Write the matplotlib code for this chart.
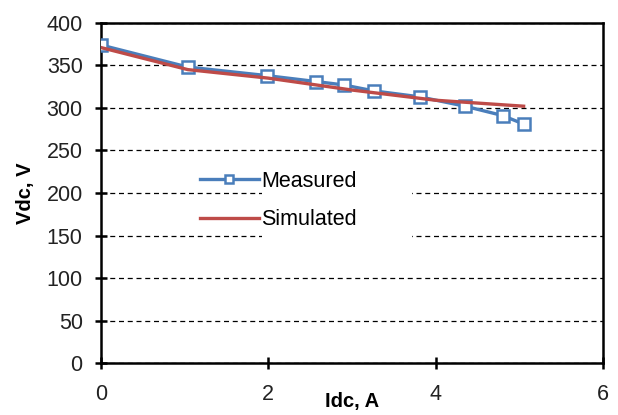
import matplotlib
matplotlib.use('Agg')
import matplotlib.pyplot as plt
from matplotlib.patches import Rectangle

plt.rcParams['font.family'] = ['Liberation Sans', 'DejaVu Sans']

# measured points
meas_I = [0.0, 1.04, 1.98, 2.57, 2.9, 3.26, 3.81, 4.35, 4.8, 5.05]
meas_V = [374, 348, 338, 331, 327, 320, 313, 302, 291, 281]

# simulated curve
sim_I = [0.0, 1.04, 2.0, 3.0, 4.0, 5.05]
sim_V = [371, 345, 335, 321, 309, 302]

x_ticks = [0, 2, 4, 6]
y_ticks = [0, 50, 100, 150, 200, 250, 300, 350, 400]

blue = '#4A7EBB'
red = '#BE4B48'

fig = plt.figure(figsize=(6.18, 4.15), dpi=100)
ax = fig.add_axes([0.163, 0.125, 0.813, 0.82])

ax.plot(meas_I, meas_V, color=blue, lw=2.4, marker='s', ms=8, mfc='white',
        mec=blue, mew=1.8, label='Measured', zorder=3)
ax.plot(sim_I, sim_V, color=red, lw=2.4, label='Simulated', zorder=4)

ax.set_xlim(0, 6)
ax.set_ylim(0, 400)
ax.set_xticks(x_ticks)
ax.set_yticks(y_ticks)
ax.yaxis.grid(True, linestyle=(0, (4, 3)), color='black', lw=0.9)
ax.set_axisbelow(True)

for s in ax.spines.values():
    s.set_linewidth(1.8)
    s.set_color('black')
ax.tick_params(axis='both', labelsize=15.5, width=1.8, length=8, direction='inout',
               colors='black', labelcolor='#222222')
ax.tick_params(axis='y', pad=9)
ax.tick_params(axis='x', pad=11)

ax.set_xlabel('Idc, A', fontsize=14.5, fontweight='bold', labelpad=-9)
ax.set_ylabel('Vdc, V', fontsize=14.5, fontweight='bold', labelpad=8)

# white box behind legend text (covers grid like the original)
ax.add_patch(Rectangle((0.32, 0.36), 0.30, 0.24, transform=ax.transAxes,
                       facecolor='white', edgecolor='none', zorder=1.5))

leg = ax.legend(loc='upper left', bbox_to_anchor=(0.197, 0.565), frameon=False,
                fontsize=15.5, handlelength=2.75, handletextpad=0.1,
                labelspacing=0.8, borderpad=0, borderaxespad=0, markerscale=0.8)

fig.savefig('out.png', dpi=100)
